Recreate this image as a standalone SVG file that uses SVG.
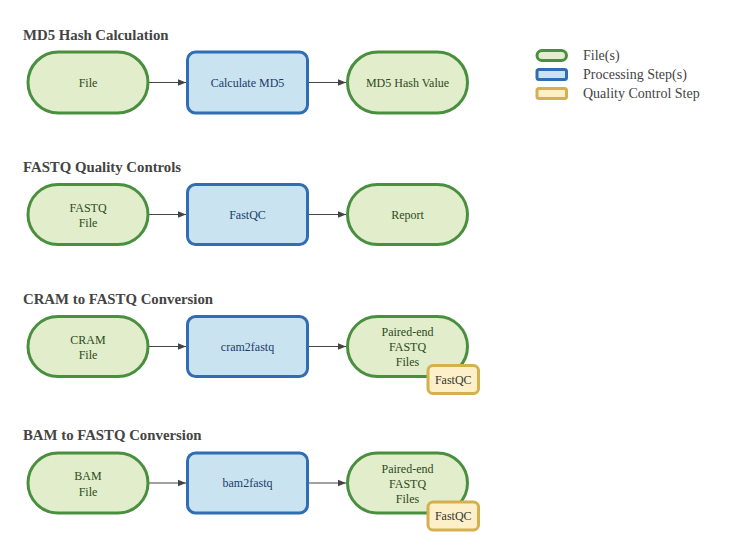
<svg xmlns="http://www.w3.org/2000/svg" width="737" height="553" viewBox="0 0 737 553">
<defs>
<marker id="ah" viewBox="0 0 10 10" refX="10" refY="5" markerWidth="8" markerHeight="8" markerUnits="userSpaceOnUse" orient="auto">
<path d="M0,1 L10,5 L0,9 z" fill="#444"/>
</marker>
<style>
.title{font-family:"Liberation Serif",serif;font-weight:bold;font-size:14.8px;fill:#444}
.file rect{fill:#e1edcb;stroke:#4a8f3f;stroke-width:3}
.proc rect{fill:#c9e4f0;stroke:#2f6db5;stroke-width:3}
.qc rect{fill:#fdf0c8;stroke:#d4b050;stroke-width:3}
.file text{fill:#2d4a22}
.proc text{fill:#1b3b6a}
.qc text{fill:#333}
text{font-family:"Liberation Serif",serif;font-size:12px;text-anchor:middle}
.leg text{font-size:14px;fill:#444;text-anchor:start}
.conn line{stroke:#444;stroke-width:1;marker-end:url(#ah)}
</style>
</defs>
<rect width="737" height="553" fill="#fff"/>
<text class="title" x="23" y="40" style="text-anchor:start">MD5 Hash Calculation</text>
<text class="title" x="23" y="172" style="text-anchor:start">FASTQ Quality Controls</text>
<text class="title" x="23" y="304" style="text-anchor:start">CRAM to FASTQ Conversion</text>
<text class="title" x="23" y="440" style="text-anchor:start">BAM to FASTQ Conversion</text>

<g class="conn">
<line x1="149" y1="82.5" x2="186" y2="82.5"/>
<line x1="309" y1="82.5" x2="346" y2="82.5"/>
<line x1="149" y1="214.5" x2="186" y2="214.5"/>
<line x1="309" y1="214.5" x2="346" y2="214.5"/>
<line x1="149" y1="346.5" x2="186" y2="346.5"/>
<line x1="309" y1="346.5" x2="346" y2="346.5"/>
<line x1="149" y1="483" x2="186" y2="483"/>
<line x1="309" y1="483" x2="346" y2="483"/>
</g>

<g id="md5-file" class="file"><rect x="28" y="52" width="120" height="61" rx="30.5"/><text x="88" y="86.5">File</text></g>
<g id="md5-calc" class="proc"><rect x="187.5" y="52" width="120" height="61" rx="8"/><text x="247.5" y="86.5">Calculate MD5</text></g>
<g id="md5-value" class="file"><rect x="347.5" y="52" width="120" height="61" rx="30.5"/><text x="407.5" y="86.5">MD5 Hash Value</text></g>

<g id="fq-file" class="file"><rect x="28" y="184.5" width="120" height="60" rx="30"/><text x="88" y="211.5">FASTQ</text><text x="88" y="227">File</text></g>
<g id="fq-fastqc" class="proc"><rect x="187.5" y="184.5" width="120" height="60" rx="8"/><text x="247.5" y="218.5">FastQC</text></g>
<g id="fq-report" class="file"><rect x="347.5" y="184.5" width="120" height="60" rx="30"/><text x="407.5" y="218.5">Report</text></g>

<g id="cram-file" class="file"><rect x="28" y="316.5" width="120" height="60" rx="30"/><text x="88" y="343.5">CRAM</text><text x="88" y="359">File</text></g>
<g id="cram2fastq" class="proc"><rect x="187.5" y="316.5" width="120" height="60" rx="8"/><text x="247.5" y="350.5">cram2fastq</text></g>
<g id="cram-out" class="file"><rect x="347.5" y="316.5" width="120" height="60" rx="30"/><text x="407.5" y="336">Paired-end</text><text x="407.5" y="351">FASTQ</text><text x="407.5" y="366">Files</text></g>
<g id="cram-qc" class="qc"><rect x="428" y="365.5" width="50.5" height="28" rx="5"/><text x="453.25" y="383.5">FastQC</text></g>

<g id="bam-file" class="file"><rect x="28" y="453" width="120" height="60" rx="30"/><text x="88" y="480">BAM</text><text x="88" y="495.5">File</text></g>
<g id="bam2fastq" class="proc"><rect x="187.5" y="453" width="120" height="60" rx="8"/><text x="247.5" y="487">bam2fastq</text></g>
<g id="bam-out" class="file"><rect x="347.5" y="453" width="120" height="60" rx="30"/><text x="407.5" y="472.5">Paired-end</text><text x="407.5" y="487.5">FASTQ</text><text x="407.5" y="502.5">Files</text></g>
<g id="bam-qc" class="qc"><rect x="428" y="502" width="50.5" height="28" rx="5"/><text x="453.25" y="520">FastQC</text></g>

<g id="legend" class="leg">
<g class="file"><rect x="537" y="50.5" width="29.5" height="10" rx="5"/></g>
<g class="proc"><rect x="537" y="69.5" width="29.5" height="10" rx="2"/></g>
<g class="qc"><rect x="537" y="88.5" width="29.5" height="10" rx="2"/></g>
<text x="583" y="60">File(s)</text>
<text x="583" y="79">Processing Step(s)</text>
<text x="583" y="98">Quality Control Step</text>
</g>
</svg>
